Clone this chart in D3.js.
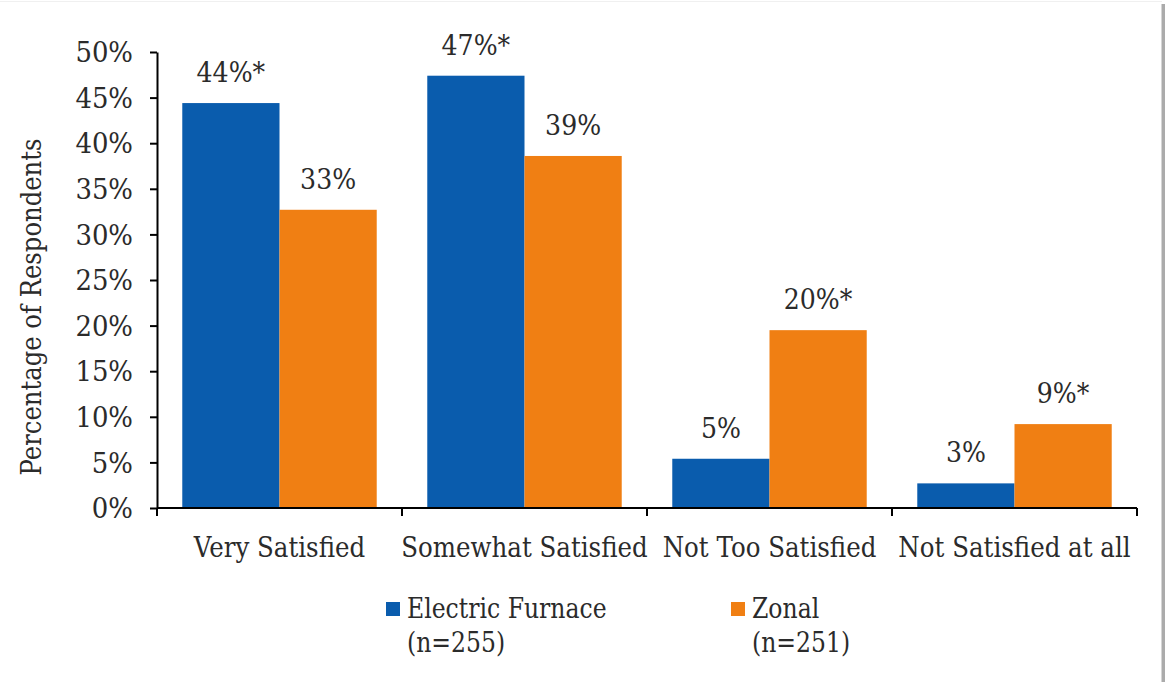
<!DOCTYPE html>
<html>
<head>
<meta charset="utf-8">
<script src="https://cdn.jsdelivr.net/npm/d3@7"></script>
<style>
  html, body { margin: 0; padding: 0; background: #fff; }
  svg { display: block; }
  svg text { font-family: "DejaVu Serif", serif; }
</style>
</head>
<body>
<svg id="chart" width="1165" height="682"></svg>
<script>
// Satisfaction by heating system type
const categories = ["Very Satisfied", "Somewhat Satisfied", "Not Too Satisfied", "Not Satisfied at all"];
const seriesNames = ["Electric Furnace", "Zonal"];
const seriesCounts = ["(n=255)", "(n=251)"];
const electricFurnace = [44.4, 47.4, 5.4, 2.7];
const zonal = [32.7, 38.6, 19.5, 9.2];
// categories where the difference between groups is significant, per series
const electricSignificant = [true, true, false, false];
const zonalSignificant = [false, false, true, true];
const yTicks = [0, 5, 10, 15, 20, 25, 30, 35, 40, 45, 50];
const colors = ["#0a5cad", "#f07f13"];

const INK = "#2b2b2b";

// squeeze a wide serif face horizontally so it sets like a Times-style face
function condense(sel, k) {
  sel.each(function () {
    const w = this.getComputedTextLength();
    d3.select(this).attr("textLength", w * k).attr("lengthAdjust", "spacingAndGlyphs");
  });
}

const svg = d3.select("#chart");
const W = 1165, H = 682;
const margin = { left: 157, right: 28, top: 52, bottom: 174 };
const plotW = W - margin.left - margin.right;
const plotH = H - margin.top - margin.bottom;

// frame: faint top rule and shaded right edge
svg.append("line").attr("x1", 0).attr("x2", W - 3).attr("y1", 1.5).attr("y2", 1.5)
  .attr("stroke", "#f0f0f0").attr("stroke-width", 1);
svg.append("rect").attr("x", W - 3.5).attr("y", 4).attr("width", 3.5).attr("height", H - 4)
  .attr("fill", "#ababab");

const g = svg.append("g").attr("transform", `translate(${margin.left},${margin.top})`);

const x = d3.scaleBand().domain(categories).range([0, plotW]).paddingInner(0).paddingOuter(0);
const x1 = d3.scaleBand().domain(seriesNames).range([0, x.bandwidth()]).paddingInner(0).paddingOuter(0.26);
const y = d3.scaleLinear().domain([0, 50]).range([plotH, 0]);

const rows = categories.map((c, i) => ({
  category: c,
  values: [
    { series: seriesNames[0], value: electricFurnace[i], sig: electricSignificant[i] },
    { series: seriesNames[1], value: zonal[i], sig: zonalSignificant[i] }
  ]
}));

// bars
const groups = g.selectAll("g.cat").data(rows).join("g")
  .attr("class", "cat")
  .attr("transform", d => `translate(${x(d.category)},0)`);

groups.selectAll("rect").data(d => d.values).join("rect")
  .attr("x", d => x1(d.series))
  .attr("width", x1.bandwidth())
  .attr("y", d => y(d.value))
  .attr("height", d => y(0) - y(d.value))
  .attr("fill", (d, i) => colors[i]);

// value labels
groups.selectAll("text.val").data(d => d.values).join("text")
  .attr("class", "val")
  .attr("x", d => x1(d.series) + x1.bandwidth() / 2)
  .attr("y", d => y(d.value) - 21)
  .attr("text-anchor", "middle")
  .attr("font-size", 28)
  .attr("fill", INK)
  .text(d => Math.round(d.value) + "%" + (d.sig ? "*" : ""))
  .call(condense, 0.9);

// y axis
const yAxis = d3.axisLeft(y).tickValues(yTicks).tickFormat(d => d + "%").tickSize(7).tickSizeOuter(0);
const ya = g.append("g").call(yAxis).attr("font-family", null);
ya.select(".domain").attr("stroke", "#000").attr("stroke-width", 2);
ya.selectAll(".tick line").attr("stroke", "#000").attr("stroke-width", 2);
ya.selectAll(".tick text").attr("font-size", 27).attr("x", -24).attr("dy", "0.36em")
  .attr("fill", INK)
  .call(condense, 0.96);

// x axis with ticks at category boundaries
const xa = g.append("g").attr("transform", `translate(0,${plotH})`);
xa.append("line").attr("x1", 0).attr("x2", plotW).attr("y1", 0).attr("y2", 0)
  .attr("stroke", "#000").attr("stroke-width", 2);
const bounds = categories.map(c => x(c)).concat([plotW]);
xa.selectAll("line.tk").data(bounds).join("line").attr("class", "tk")
  .attr("x1", d => d).attr("x2", d => d).attr("y1", 0).attr("y2", 8)
  .attr("stroke", "#000").attr("stroke-width", 2);
xa.selectAll("text").data(categories).join("text")
  .attr("x", d => x(d) + x.bandwidth() / 2)
  .attr("y", 49)
  .attr("text-anchor", "middle")
  .attr("font-size", 28)
  .attr("fill", INK)
  .text(d => d)
  .call(condense, 0.875);

// y axis title
svg.append("text")
  .attr("transform", `translate(41,307) rotate(-90)`)
  .attr("text-anchor", "middle")
  .attr("font-size", 27)
  .attr("fill", INK)
  .text("Percentage of Respondents")
  .call(condense, 0.9);

// legend
const legendX = [386, 731];
const leg = svg.selectAll("g.leg").data(seriesNames).join("g")
  .attr("class", "leg")
  .attr("transform", (d, i) => `translate(${legendX[i]},602)`);
leg.append("rect").attr("x", 0).attr("y", 0).attr("width", 14).attr("height", 14)
  .attr("fill", (d, i) => colors[i]);
leg.append("text").attr("x", 21).attr("y", 16).attr("font-size", 28).attr("fill", INK)
  .text(d => d)
  .call(condense, 0.84);
leg.append("text").attr("x", 21).attr("y", 50).attr("font-size", 28).attr("fill", INK)
  .text((d, i) => seriesCounts[i])
  .call(condense, 0.84);
</script>
</body>
</html>
